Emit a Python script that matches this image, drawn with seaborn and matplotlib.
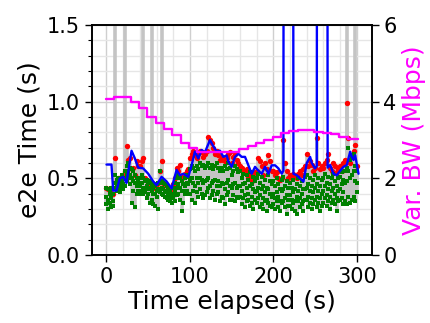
import numpy as np
import pandas as pd
import matplotlib
matplotlib.use("Agg")
import matplotlib.pyplot as plt
import seaborn as sns
from matplotlib.ticker import MultipleLocator

# ---- data ----
t_pts = list(range(0, 302, 2))  # 0..300 every 2 s

g_hi = [.44, .43, .42, .44, .40, .52, .49, .50, .47, .52,
        .50, .55, .58, .60, .57, .56, .55, .52, .50, .48,
        .50, .52, .50, .48, .49, .47, .48, .46, .44, .45,
        .46, .47, .55, .48, .47, .46, .45, .44, .42, .40,
        .44, .47, .50, .52, .50, .48, .46, .50, .52, .51,
        .56, .58, .57, .55, .58, .56, .60, .58, .59, .57,
        .58, .60, .57, .59, .56, .58, .60, .57, .55, .57,
        .55, .58, .56, .60, .57, .52, .55, .58, .56, .54,
        .55, .50, .53, .47, .52, .49, .54, .46, .51, .48,
        .50, .53, .47, .51, .45, .49, .44, .52, .48, .46,
        .48, .45, .50, .46, .43, .49, .51, .45, .48, .44,
        .47, .44, .49, .43, .46, .50, .45, .48, .43, .51,
        .52, .46, .50, .45, .49, .52, .46, .50, .45, .49,
        .50, .53, .47, .51, .46, .50, .53, .48, .45, .50,
        .51, .54, .49, .55, .57, .70, .62, .63, .66, .58, .55]

g_mid = [.38, .36, .40, .37, .35, .47, .45, .46, .44, .48,
         .46, .50, .53, .55, .52, .50, .48, .47, .45, .46,
         .45, .47, .44, .44, .45, .43, .44, .42, .40, .40,
         .42, .43, .47, .44, .43, .42, .41, .40, .38, .37,
         .40, .42, .44, .46, .44, .42, .42, .45, .47, .46,
         .48, .50, .47, .45, .50, .47, .50, .49, .47, .48,
         .49, .50, .45, .47, .48, .49, .45, .48, .45, .47,
         .46, .43, .47, .49, .45, .44, .46, .47, .44, .45,
         .45, .42, .46, .39, .44, .40, .45, .38, .43, .41,
         .42, .44, .39, .43, .37, .41, .36, .43, .40, .38,
         .40, .37, .41, .38, .35, .42, .43, .37, .39, .36,
         .39, .36, .41, .35, .38, .42, .37, .40, .35, .43,
         .44, .38, .42, .37, .41, .44, .38, .42, .37, .40,
         .42, .45, .39, .43, .38, .42, .44, .40, .37, .42,
         .43, .46, .41, .47, .48, .55, .50, .52, .55, .48, .47]

g_lo = [.33, .30, .34, .31, .32, .44, .42, .43, .41, .45,
        .43, .45, .48, .50, .46, .34, .42, .31, .40, .42,
        .40, .42, .40, .41, .37, .40, .34, .36, .33, .32,
        .38, .30, .41, .40, .39, .38, .37, .36, .35, .34,
        .37, .35, .39, .40, .36, .29, .34, .40, .42, .40,
        .40, .36, .42, .34, .41, .38, .43, .40, .37, .39,
        .41, .44, .37, .39, .42, .36, .40, .41, .35, .38,
        .37, .33, .39, .41, .36, .36, .39, .35, .38, .37,
        .38, .33, .37, .31, .35, .36, .32, .34, .30, .36,
        .34, .37, .31, .33, .30, .35, .29, .34, .32, .31,
        .33, .30, .35, .31, .29, .34, .35, .31, .27, .32,
        .32, .30, .34, .29, .27, .35, .31, .33, .29, .36,
        .36, .31, .34, .30, .33, .36, .31, .34, .29, .32,
        .34, .37, .32, .35, .30, .34, .36, .33, .29, .35,
        .36, .37, .33, .35, .33, .38, .34, .36, .38, .35, .41]

red = [.44, .43, .42, .44, .40, .63, .49, .50, .47, .52,
       .50, .55, .71, .62, .63, .56, .57, .52, .61, .58,
       .58, .61, .63, .50, .49, .47, .48, .47, .44, .45,
       .46, .47, .55, .61, .47, .46, .45, .44, .42, .40,
       .46, .50, .57, .55, .59, .50, .52, .53, .55, .56,
       .63, .66, .68, .65, .63, .66, .68, .67, .64, .66,
       .68, .77, .75, .73, .70, .66, .68, .65, .62, .64,
       .62, .61, .63, .66, .67, .60, .64, .66, .62, .60,
       .58, .57, .55, .54, .56, .50, .52, .48, .53, .54,
       .55, .63, .61, .58, .52, .60, .56, .65, .61, .55,
       .55, .52, .54, .50, .49, .50, .75, .60, .55, .50,
       .52, .50, .53, .51, .50, .53, .55, .52, .56, .58,
       .66, .58, .61, .59, .55, .57, .76, .60, .56, .58,
       .57, .60, .62, .66, .57, .55, .60, .58, .54, .56,
       .58, .55, .60, .62, .99, .76, .60, .65, .68, .72, .58]

spike_t = [10, 22, 44, 54, 66, 288, 298]   # gray ranges reaching above 1.5 s
spike_top = [3.0, 3.0, 3.0, 3.0, 3.0, 3.0, 3.0]

blue_t = [0, 6, 8, 12, 16, 20, 24, 30, 34, 38, 44, 50, 56, 60, 66, 72, 78, 84,
          88, 92, 98, 102, 106, 110, 114, 118, 124, 128, 132, 136, 140, 144,
          146, 150, 154, 158, 162, 166, 170, 174, 178, 182, 186, 190, 194, 198,
          202, 206, 210, 212, 213, 223, 224, 228, 232, 236, 240, 244, 246, 250,
          252, 253, 264, 265, 268, 272, 276, 280, 284, 288, 292, 294, 296, 298, 302]
blue_v = [0.59, 0.59, 0.42, 0.42, 0.50, 0.51, 0.47, 0.68, 0.63, 0.57, 0.565,
          0.53, 0.48, 0.455, 0.51, 0.48, 0.435, 0.555, 0.52, 0.53, 0.51, 0.585,
          0.675, 0.63, 0.685, 0.67, 0.75, 0.71, 0.675, 0.68, 0.64, 0.65, 0.61,
          0.575, 0.64, 0.66, 0.64, 0.64, 0.585, 0.53, 0.575, 0.55, 0.53, 0.575,
          0.53, 0.585, 0.585, 0.565, 0.53, 0.55, 8.0, 8.0, 0.53, 0.52, 0.50,
          0.478, 0.60, 0.64, 0.60, 0.565, 0.58, 8.0, 8.0, 0.57, 0.587, 0.53,
          0.52, 0.55, 0.575, 0.587, 0.674, 0.64, 0.62, 0.65, 0.53]

bw_t = [-1, 9, 19, 29, 39, 49, 59, 69, 79, 89, 99, 109, 119, 129, 139, 149,
        159, 169, 179, 189, 199, 209, 219, 229, 239, 249, 259, 269, 279, 289, 301]
bw_v = [4.08, 4.11, 4.11, 4.00, 3.83, 3.61, 3.45, 3.30, 3.13, 2.93, 2.78, 2.70,
        2.70, 2.70, 2.70, 2.70, 2.77, 2.85, 2.91, 3.00, 3.09, 3.17, 3.23, 3.26,
        3.26, 3.22, 3.19, 3.16, 3.09, 3.03, 3.03]

# ---- figure ----
sns.set_style("ticks")
plt.rcParams['font.family'] = ['DejaVu Sans']
plt.rcParams.update({'text.color': 'black', 'axes.labelcolor': 'black',
                     'xtick.color': 'black', 'ytick.color': 'black',
                     'axes.edgecolor': 'black'})
fig = plt.figure(figsize=(4.31, 3.23), dpi=100)
ax = fig.add_axes([0.2128, 0.2105, 0.6496, 0.7121])

tarr = np.array(t_pts)
lo = np.minimum.reduce([np.array(g_lo), np.array(g_mid), np.array(g_hi)])
hi = np.maximum(np.array(red), np.array(g_hi))
ax.vlines(tarr, lo, hi, colors='#c4c4c4', linewidth=2.6, zorder=2)
ax.vlines(spike_t, 0.5, spike_top, colors='#c4c4c4', linewidth=2.6, zorder=2)

df_red = pd.DataFrame({'t': t_pts, 'v': red})
df_g = pd.DataFrame({'t': t_pts * 3, 'v': g_hi + g_mid + g_lo})
sns.scatterplot(data=df_red, x='t', y='v', ax=ax, color='red', marker='o',
                s=15, linewidth=0, zorder=3, legend=False)
sns.scatterplot(data=df_g, x='t', y='v', ax=ax, color='green', marker='s',
                s=10, linewidth=0, zorder=4, legend=False)
df_b = pd.DataFrame({'t': blue_t, 'v': blue_v})
sns.lineplot(data=df_b, x='t', y='v', ax=ax, color='blue', linewidth=1.7,
             estimator=None, sort=False, zorder=5, legend=False)

ax.set_xlim(-17.7, 317.8)
ax.set_ylim(0, 1.5)
ax.xaxis.set_major_locator(MultipleLocator(100))
ax.xaxis.set_minor_locator(MultipleLocator(20))
ax.yaxis.set_major_locator(MultipleLocator(0.5))
ax.yaxis.set_minor_locator(MultipleLocator(0.1))
ax.grid(True, which='major', color='#cfcfcf', linewidth=1.0, zorder=0)
ax.grid(True, which='minor', color='#e6e6e6', linewidth=1.0, zorder=0)
ax.set_axisbelow(True)
ax.tick_params(axis='both', which='major', labelsize=15, length=5, width=1, color='black')
ax.tick_params(axis='y', which='minor', length=3, width=0.8)
ax.tick_params(axis='x', which='minor', length=0)
ax.set_xlabel('Time elapsed (s)', fontsize=18, labelpad=2)
ax.set_ylabel('e2e Time (s)', fontsize=18, labelpad=4)
for s in ax.spines.values():
    s.set_color('black')
    s.set_linewidth(1.2)

ax2 = ax.twinx()
df_bw = pd.DataFrame({'t': bw_t, 'v': bw_v})
sns.lineplot(data=df_bw, x='t', y='v', ax=ax2, color='magenta', linewidth=1.7,
             drawstyle='steps-post', estimator=None, sort=False, legend=False)
ax2.set_ylim(0, 6)
ax2.set_yticks([0, 2, 4, 6])
ax2.tick_params(axis='y', labelsize=15, length=5, width=1, color='black')
ax2.set_ylabel('Var. BW (Mbps)', fontsize=18, color='magenta', labelpad=4)
ax2.set_xlim(-17.7, 317.8)
for s in ax2.spines.values():
    s.set_color('black')
    s.set_linewidth(1.2)

fig.savefig('out.png', dpi=100)
